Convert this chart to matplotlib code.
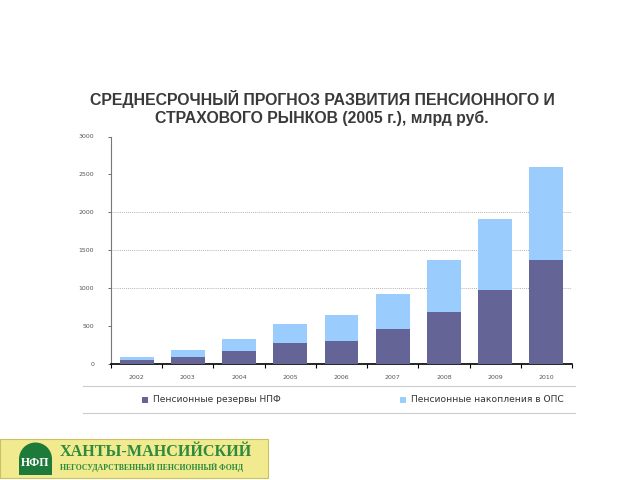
import matplotlib
matplotlib.use('Agg')
import matplotlib.pyplot as plt
from matplotlib.patches import Rectangle, Wedge
import numpy as np

# data (billion rub.)
years = ['2002', '2003', '2004', '2005', '2006', '2007', '2008', '2009', '2010']
reservesNPF = [55, 95, 170, 277, 298, 461, 680, 975, 1365]
savingsOPS = [35, 90, 165, 250, 343, 461, 685, 940, 1231]
yTicks = [0, 500, 1000, 1500, 2000, 2500, 3000]
gridAt = [1000, 1500, 2000]

darkColor = '#646496'
lightColor = '#9acdfe'

fig = plt.figure(figsize=(6.4, 4.8), dpi=100)
fig.patch.set_facecolor('white')

# overlay in pixel coordinates for title, legend and logo
ov = fig.add_axes([0, 0, 1, 1], zorder=0)
ov.set_xlim(0, 640)
ov.set_ylim(480, 0)
ov.axis('off')

# title
ov.text(322, 99, 'СРЕДНЕСРОЧНЫЙ ПРОГНОЗ РАЗВИТИЯ ПЕНСИОННОГО И',
        ha='center', va='center', fontsize=11.4, fontweight='bold',
        color='#3a3a3a', family='Liberation Sans')
ov.text(322, 118, 'СТРАХОВОГО РЫНКОВ (2005 г.), млрд руб.',
        ha='center', va='center', fontsize=11.4, fontweight='bold',
        color='#3a3a3a', family='Liberation Sans')

ax = fig.add_axes([111 / 640, 1 - 364 / 480, 461 / 640, 227.5 / 480], zorder=1)
ax.patch.set_alpha(0)
x = np.arange(len(years))
ax.bar(x, reservesNPF, width=0.66, color=darkColor, zorder=3)
ax.bar(x, savingsOPS, width=0.66, bottom=reservesNPF, color=lightColor, zorder=3)

for g in gridAt:
    ax.axhline(g, color='#999999', linestyle=(0, (1, 1.5)), linewidth=0.6, zorder=1)

ax.set_xlim(-0.5, len(years) - 0.5)
ax.set_ylim(0, 3000)
ax.set_yticks(yTicks)
ax.set_yticklabels([str(t) for t in yTicks], fontsize=4.5, color='#555555')
ax.set_xticks(x)
ax.set_xticklabels(years, fontsize=4.5, color='#555555')
ax.tick_params(axis='x', which='major', length=0, pad=8)
ax.set_xticks(np.arange(len(years) + 1) - 0.5, minor=True)
ax.tick_params(axis='x', which='minor', length=3, direction='out', color='black', width=0.8)
ax.tick_params(axis='y', length=2, direction='out', color='#555555', width=0.6, pad=10)
for side in ['top', 'right']:
    ax.spines[side].set_visible(False)
ax.spines['left'].set_color('#777777')
ax.spines['left'].set_linewidth(0.8)
ax.spines['bottom'].set_color('black')
ax.spines['bottom'].set_linewidth(1.2)

# legend box
for yy in [386, 413]:
    ov.plot([83, 575], [yy, yy], color='#cccccc', linewidth=0.8)
ov.add_patch(Rectangle((142, 397), 6, 6, facecolor=darkColor, edgecolor='none'))
ov.text(153, 400, 'Пенсионные резервы НПФ', fontsize=6.6,
        va='center', ha='left', color='#333333')
ov.add_patch(Rectangle((400, 397), 6, 6, facecolor=lightColor, edgecolor='none'))
ov.text(411, 400, 'Пенсионные накопления в ОПС', fontsize=6.6,
        va='center', ha='left', color='#333333')

# logo block
ov.add_patch(Rectangle((0, 439), 268, 39, facecolor='#f2ea8e',
                       edgecolor='#c9c06a', linewidth=0.8))
ov.add_patch(Wedge((35.5, 459), 16.5, 180, 360, facecolor='#1e7a3a', edgecolor='none'))
ov.add_patch(Rectangle((19, 458), 33, 17, facecolor='#1e7a3a', edgecolor='none'))
ov.text(35.5, 463, 'НФП', fontsize=8.5, fontweight='bold',
        color='white', ha='center', va='center', family='Liberation Serif')
ov.text(60, 452, 'ХАНТЫ-МАНСИЙСКИЙ', fontsize=11.6,
        fontweight='bold', color='#2d8a3e', ha='left', va='center',
        family='Liberation Serif')
ov.text(60, 467, 'НЕГОСУДАРСТВЕННЫЙ ПЕНСИОННЫЙ ФОНД',
        fontsize=5.6, fontweight='bold', color='#2d8a3e', ha='left',
        va='center', family='Liberation Serif')

fig.savefig('out.png', dpi=100, facecolor='white')
